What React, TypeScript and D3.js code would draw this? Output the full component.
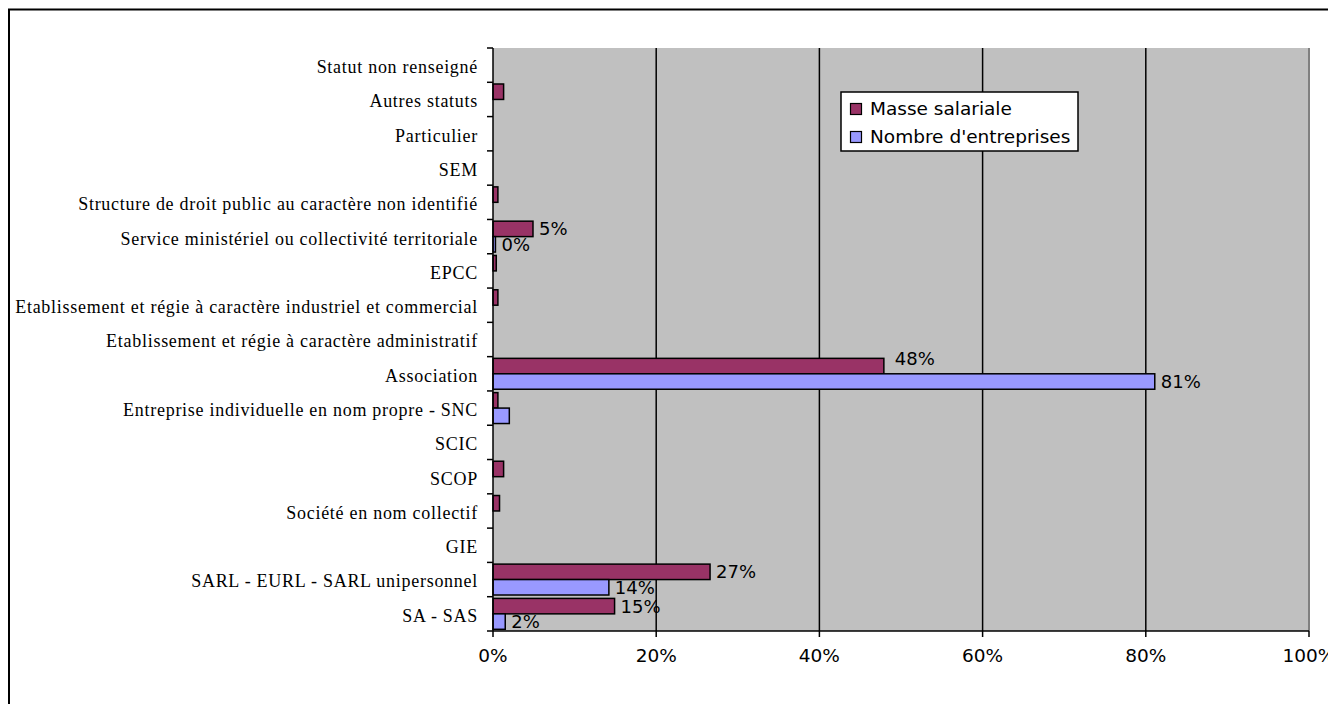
import React from "react";
import * as d3 from "d3";

const categories = [
  "Statut non renseigné",
  "Autres statuts",
  "Particulier",
  "SEM",
  "Structure de droit public au caractère non identifié",
  "Service ministériel ou collectivité territoriale",
  "EPCC",
  "Etablissement et régie à caractère industriel et commercial",
  "Etablissement et régie à caractère administratif",
  "Association",
  "Entreprise individuelle en nom propre - SNC",
  "SCIC",
  "SCOP",
  "Société en nom collectif",
  "GIE",
  "SARL - EURL - SARL unipersonnel",
  "SA - SAS",
];

const masseSalariale = [0, 1.3, 0, 0, 0.6, 4.9, 0.4, 0.6, 0, 47.9, 0.6, 0, 1.3, 0.8, 0, 26.6, 14.9];
const nombreEntreprises = [0, 0, 0, 0, 0, 0.3, 0, 0, 0, 81.1, 2.0, 0, 0, 0, 0, 14.2, 1.5];

const masseLabels = [null, null, null, null, null, "5%", null, null, null, "48%", null, null, null, null, null, "27%", "15%"];
const nombreLabels = [null, null, null, null, null, "0%", null, null, null, "81%", null, null, null, null, null, "14%", "2%"];

const xTicks = [0, 20, 40, 60, 80, 100];
const seriesNames = ["Masse salariale", "Nombre d'entreprises"];
const seriesColors = ["#993366", "#9999FF"];

const W = 1328;
const H = 696;
const plot = { left: 485, right: 1301, top: 40, bottom: 623 };
const SANS = "'DejaVu Sans', Verdana, sans-serif";
const SERIF = "'Liberation Serif', 'Times New Roman', serif";

export default function App() {
  const x = d3.scaleLinear().domain([0, 100]).range([plot.left, plot.right]);
  const y = d3.scaleBand<string>().domain(categories).range([plot.top, plot.bottom]).paddingInner(0).paddingOuter(0);
  const bw = y.bandwidth();
  const sub = d3.scaleBand<number>().domain([0, 1]).range([0, bw]).paddingInner(0).paddingOuter(0.11);
  const series = [masseSalariale, nombreEntreprises];
  const labels = [masseLabels, nombreLabels];

  return (
    <svg width={W} height={H} style={{ display: "block" }}>
      <rect x={1} y={1.5} width={W - 3} height={H + 20} fill="#fff" stroke="#000" strokeWidth={2} />
      <rect x={plot.left} y={plot.top} width={plot.right - plot.left} height={plot.bottom - plot.top} fill="#C0C0C0" />
      <line x1={plot.right} x2={plot.right} y1={plot.top} y2={plot.bottom} stroke="#808080" strokeWidth={2} />
      {xTicks.slice(1, -1).map((t) => (
        <line key={"g" + t} x1={x(t)} x2={x(t)} y1={plot.top} y2={plot.bottom} stroke="#000" strokeWidth={1.5} />
      ))}
      {categories.map((c, i) =>
        series.map((vals, s) => {
          const v = vals[i];
          const by = (y(c) as number) + (sub(s) as number);
          const bh = sub.bandwidth();
          return (
            <g key={c + s}>
              {v > 0 && (
                <rect x={x(0)} y={by} width={x(v) - x(0)} height={bh} fill={seriesColors[s]} stroke="#000" strokeWidth={1.5} />
              )}
              {labels[s][i] && (
                <text
                  x={x(v) + (labels[s][i] === "48%" ? 11 : 6)}
                  y={by + bh / 2 + (labels[s][i] === "48%" ? -8 : 0)}
                  dy="0.36em"
                  fontFamily={SANS}
                  fontSize={18}
                  fill="#000"
                >
                  {labels[s][i]}
                </text>
              )}
            </g>
          );
        })
      )}
      {/* y axis */}
      <line x1={plot.left} x2={plot.left} y1={plot.top} y2={plot.bottom} stroke="#000" strokeWidth={1.5} />
      {d3.range(categories.length + 1).map((i) => {
        const ty = plot.top + i * bw;
        return <line key={"yt" + i} x1={plot.left - 6} x2={plot.left} y1={ty} y2={ty} stroke="#000" strokeWidth={1.5} />;
      })}
      {categories.map((c) => (
        <text
          key={"yl" + c}
          x={plot.left - 15}
          y={(y(c) as number) + bw / 2 + 2}
          dy="0.33em"
          textAnchor="end"
          fontFamily={SERIF}
          fontSize={18}
          letterSpacing={0.72}
          fill="#000"
        >
          {c}
        </text>
      ))}
      {/* x axis */}
      <line x1={plot.left} x2={plot.right} y1={plot.bottom} y2={plot.bottom} stroke="#000" strokeWidth={1.5} />
      {xTicks.map((t) => (
        <g key={"xt" + t}>
          <line x1={x(t)} x2={x(t)} y1={plot.bottom} y2={plot.bottom + 6} stroke="#000" strokeWidth={1.5} />
          <text x={x(t)} y={plot.bottom + 25} dy="0.35em" textAnchor="middle" fontFamily={SANS} fontSize={18.5} fill="#000">
            {t + "%"}
          </text>
        </g>
      ))}
      {/* legend */}
      <rect x={833} y={84} width={237} height={59} fill="#fff" stroke="#000" strokeWidth={1.5} />
      {seriesNames.map((n, i) => (
        <g key={n}>
          <rect x={842.5} y={95.5 + i * 28} width={11} height={11} fill={seriesColors[i]} stroke="#000" strokeWidth={1.2} />
          <text x={862} y={101 + i * 28} dy="0.35em" fontFamily={SANS} fontSize={18.5} fill="#000">
            {n}
          </text>
        </g>
      ))}
    </svg>
  );
}
